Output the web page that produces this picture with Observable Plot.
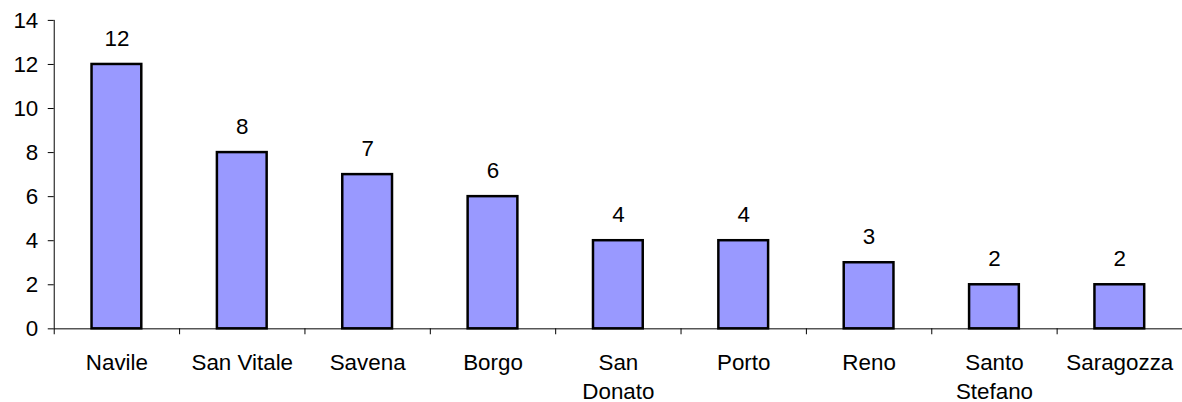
<!DOCTYPE html>
<html>
<head>
<meta charset="utf-8">
<script src="https://cdn.jsdelivr.net/npm/d3@7"></script>
<script src="https://cdn.jsdelivr.net/npm/@observablehq/plot@0.6"></script>
<style>
  html, body { margin: 0; padding: 0; background: #fff; overflow: hidden; }
  #chart { width: 1182px; height: 402px; overflow: hidden; }
</style>
</head>
<body>
<div id="chart"></div>
<script>
const categories = ["Navile", "San Vitale", "Savena", "Borgo", "San Donato", "Porto", "Reno", "Santo Stefano", "Saragozza"];
const labels = ["Navile", "San Vitale", "Savena", "Borgo", "San\nDonato", "Porto", "Reno", "Santo\nStefano", "Saragozza"];
const values = [12, 8, 7, 6, 4, 4, 3, 2, 2];
const yTicks = [0, 2, 4, 6, 8, 10, 12, 14];

const data = categories.map((c, i) => ({category: c, value: values[i]}));
const labelOf = new Map(categories.map((c, i) => [c, labels[i]]));

const font = "'Liberation Sans', Arial, sans-serif";
const fs = 22.5;

const chart = Plot.plot({
  width: 1188,
  height: 402,
  marginLeft: 54,
  marginRight: 0,
  marginTop: 20,
  marginBottom: 72,
  style: {fontFamily: font, fontSize: fs + "px", color: "#000", background: "#fff"},
  x: {type: "band", domain: categories, padding: 0, axis: null},
  y: {domain: [0, 14], axis: null},
  marks: [
    Plot.barY(data, {x: "category", y: "value", fill: "#9999FF", stroke: "#000", strokeWidth: 2.5, insetLeft: 38, insetRight: 38}),
    Plot.ruleY([0], {stroke: "#000", strokeWidth: 1}),
    Plot.ruleX([categories[0]], {dx: -63, y1: 0, y2: 14, stroke: "#000", strokeWidth: 1}),
    Plot.ruleX(categories, {dx: -63, y1: 0, y2: -0.27, stroke: "#000", strokeWidth: 1}),
    Plot.axisY({ticks: yTicks, tickSize: 6, tickPadding: 10, fontSize: fs, label: null, tickFormat: d => String(d)}),
    Plot.axisX({tickSize: 0, tickPadding: 21, fontSize: fs, lineHeight: 1.3, label: null, tickFormat: d => labelOf.get(d)}),
    Plot.text(data, {x: "category", y: "value", text: d => String(d.value), dy: -26, fontSize: fs, fill: "#000"})
  ]
});
document.getElementById("chart").appendChild(chart);
</script>
</body>
</html>
